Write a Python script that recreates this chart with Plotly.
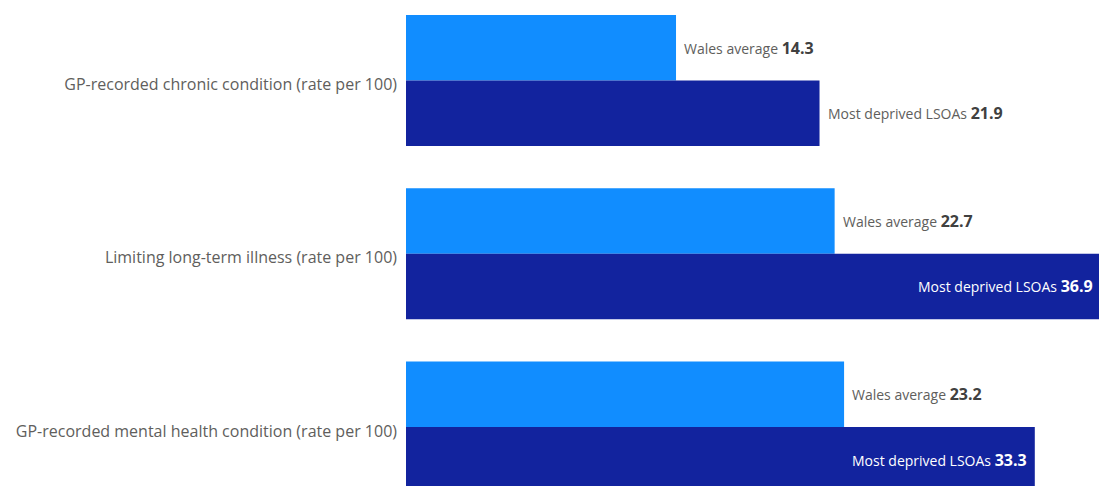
import plotly.graph_objects as go

categories = [
    "GP-recorded chronic condition (rate per 100)",
    "Limiting long-term illness (rate per 100)",
    "GP-recorded mental health condition (rate per 100)",
]
wales_avg = [14.3, 22.7, 23.2]
most_deprived = [21.9, 36.9, 33.3]
series_names = ["Wales average", "Most deprived LSOAs"]

LIGHT = "#118DFF"
DARK = "#12239E"
XMAX = 36.7
FONT = "Open Sans"

fig = go.Figure()
fig.add_trace(go.Bar(y=categories, x=wales_avg, orientation="h", name=series_names[0],
                     marker=dict(color=LIGHT, line=dict(width=0)), hoverinfo="skip"))
fig.add_trace(go.Bar(y=categories, x=most_deprived, orientation="h", name=series_names[1],
                     marker=dict(color=DARK, line=dict(width=0)), hoverinfo="skip"))

annotations = []
off = 0.189
for i, cat in enumerate(categories):
    v = wales_avg[i]
    annotations.append(dict(
        x=v, y=i - off, xref="x", yref="y", xanchor="left", yanchor="middle",
        xshift=6, showarrow=False,
        text=f"<span style='color:#605E5C'>{series_names[0]}</span> "
             f"<span style='font-size:16px;color:#404040'><b>{v}</b></span>",
        font=dict(family=FONT, size=14, color="#605E5C")))
    v = most_deprived[i]
    inside = i > 0
    if inside:
        annotations.append(dict(
            x=min(v, XMAX), y=i + off, xref="x", yref="y", xanchor="right", yanchor="middle",
            xshift=-6 if v <= XMAX else -4, showarrow=False,
            text=f"{series_names[1]} <span style='font-size:16px'><b>{v}</b></span>",
            font=dict(family=FONT, size=14, color="white")))
    else:
        annotations.append(dict(
            x=v, y=i + off, xref="x", yref="y", xanchor="left", yanchor="middle",
            xshift=6, showarrow=False,
            text=f"<span style='color:#605E5C'>{series_names[1]}</span> "
                 f"<span style='font-size:16px;color:#404040'><b>{v}</b></span>",
            font=dict(family=FONT, size=14, color="#605E5C")))

fig.update_layout(
    width=1099, height=486,
    margin=dict(l=406, r=0, t=0, b=0),
    paper_bgcolor="white", plot_bgcolor="white",
    barmode="group", bargap=0.244, bargroupgap=0,
    showlegend=False,
    xaxis=dict(range=[0, XMAX], visible=False, fixedrange=True),
    yaxis=dict(range=[2.341, -0.4653], showgrid=False, zeroline=False, showline=False,
               ticks="", ticklabelstandoff=8, ticklabelshift=-4,
               tickfont=dict(family=FONT, size=16, color="#605E5C")),
    annotations=annotations,
    font=dict(family=FONT),
)

fig.write_html("out.html")
